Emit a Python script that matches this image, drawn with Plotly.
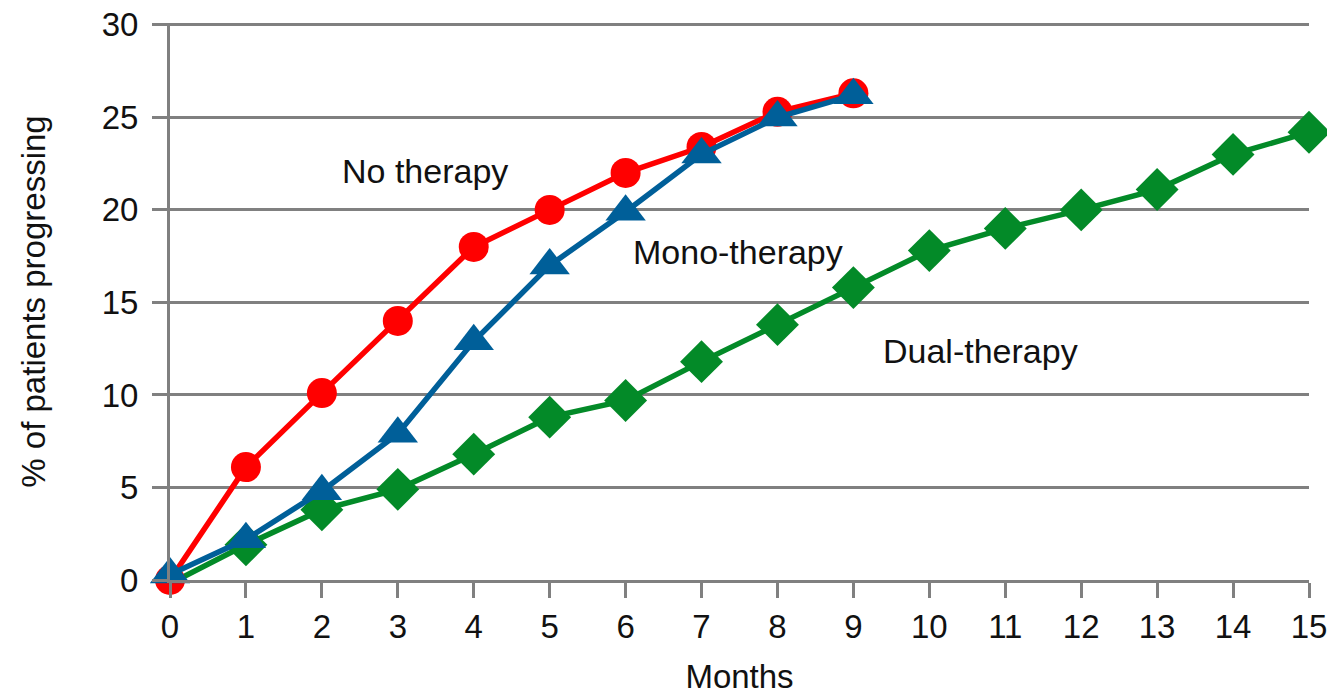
import plotly.graph_objects as go

months = list(range(16))
no_therapy = [0, 6.1, 10.1, 14.0, 18.0, 20.0, 22.0, 23.4, 25.3, 26.3]
mono_therapy = [0.3, 2.2, 4.8, 7.9, 12.9, 17.0, 19.9, 23.0, 25.0, 26.2]
dual_therapy = [-0.2, 1.9, 3.8, 4.9, 6.8, 8.8, 9.7, 11.8, 13.8, 15.8, 17.8, 19.0, 20.0, 21.1, 23.0, 24.2]
y_ticks = [0, 5, 10, 15, 20, 25, 30]

labels = [("No therapy", 3.36, 22.1), ("Mono-therapy", 7.48, 17.7), ("Dual-therapy", 10.67, 12.4)]

font = "Liberation Sans, Arial, sans-serif"
grid = "#808080"
txt = "#111111"

fig = go.Figure()
fig.add_trace(go.Scatter(x=months[:len(dual_therapy)], y=dual_therapy, mode="lines+markers",
                         line=dict(color="#038a28", width=5.5),
                         marker=dict(symbol="diamond", size=33, color="#038a28"),
                         cliponaxis=False, name="Dual-therapy"))
fig.add_trace(go.Scatter(x=months[:len(no_therapy)], y=no_therapy, mode="lines+markers",
                         line=dict(color="#ff0000", width=5.5),
                         marker=dict(symbol="circle", size=30, color="#ff0000"),
                         cliponaxis=False, name="No therapy"))
fig.add_trace(go.Scatter(x=months[:len(mono_therapy)], y=mono_therapy, mode="lines+markers",
                         line=dict(color="#005f99", width=5.5),
                         marker=dict(symbol="triangle-up", size=35, color="#005f99"),
                         cliponaxis=False, name="Mono-therapy"))

for text, x, y in labels:
    fig.add_annotation(x=x, y=y, text=text, showarrow=False,
                       font=dict(family=font, size=34, color=txt))

fig.update_layout(
    width=1335, height=694,
    margin=dict(l=162, r=34, t=15, b=122),
    paper_bgcolor="white", plot_bgcolor="white",
    showlegend=False,
    font=dict(family=font, color=txt),
)
fig.update_xaxes(range=[0, 15], tickmode="array", tickvals=months,
                 ticktext=[str(m) for m in months],
                 showgrid=False, zeroline=False, automargin=False,
                 showline=True, linecolor=grid, linewidth=3,
                 ticks="outside", ticklen=15, tickwidth=3, tickcolor=grid,
                 ticklabeloverflow="allow",
                 tickfont=dict(size=33, family=font, color=txt),
                 title=dict(text="Months", font=dict(size=33, family=font, color=txt), standoff=22))
fig.update_yaxes(range=[0, 30.1], tickmode="array", tickvals=y_ticks,
                 ticktext=[str(v) for v in y_ticks],
                 showgrid=True, gridcolor=grid, gridwidth=3, automargin=False,
                 zeroline=False, showline=True, linecolor=grid, linewidth=3,
                 ticks="outside", ticklen=15, tickwidth=3, tickcolor=grid,
                 ticklabelstandoff=7, ticklabeloverflow="allow",
                 tickfont=dict(size=33, family=font, color=txt),
                 title=dict(text="% of patients progressing", font=dict(size=33, family=font, color=txt), standoff=47))

fig.write_html("out.html")
